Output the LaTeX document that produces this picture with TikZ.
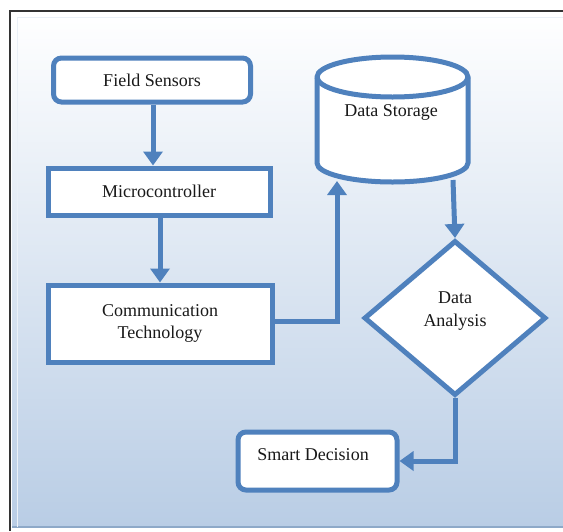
\documentclass[tikz,border=0pt]{standalone}
\usepackage{fontspec}
\setmainfont{Liberation Serif}
\usetikzlibrary{shapes.geometric,arrows.meta,calc}
\definecolor{boxblue}{HTML}{4F81BD}
\definecolor{bgbottom}{HTML}{B9CDE5}
\definecolor{bgedge}{HTML}{8EA9C8}
\begin{document}
\begin{tikzpicture}[x=1pt,y=-1pt,
  every node/.style={font=\fontsize{18}{22}\selectfont, text=black!90},
  box/.style={draw=boxblue, line width=5pt, fill=white, inner sep=0pt},
  rbox/.style={box, rounded corners=8pt},
  flow/.style={draw=boxblue, line width=5pt, -{Triangle[length=14pt,width=19pt]}},
  plain/.style={draw=boxblue, line width=5pt}
]
\useasboundingbox (0,0) rectangle (563,531);
% background panel
\shade[top color=white, bottom color=bgbottom] (12,13) rectangle (563,527);
\draw[bgedge, line width=1.5pt] (12,527) -- (563,527);
\draw[white!70!bgbottom, line width=1pt] (17,527) -- (17,17) -- (563,17);
\draw[black!80, line width=1.2pt] (10,531) -- (10,11) -- (563,11);

% nodes
\node[rbox, minimum width=197pt, minimum height=44pt] (fs) at (152,80) {Field Sensors};
\node[box, minimum width=222pt, minimum height=47pt] (mc) at (159,191.5) {Microcontroller};
\node[box, minimum width=224pt, minimum height=77pt, align=center] (ct) at (160,323.5) {Communication\\Technology};
\node[rbox, minimum width=159pt, minimum height=58pt] (sd) at (317.5,461) {};
\node at (313,455) {Smart Decision};

% cylinder
\filldraw[fill=white, draw=boxblue, line width=5pt]
  (317,77) -- (317,163) arc[start angle=180, end angle=360, x radius=75.5pt, y radius=19pt]
  -- (468,77) arc[start angle=0, end angle=180, x radius=75.5pt, y radius=20pt] -- cycle;
\draw[boxblue, line width=5pt] (317,77) arc[start angle=180, end angle=360, x radius=75.5pt, y radius=20pt];
\coordinate (dsB) at (337,181);
\coordinate (dsO) at (453,180);
\node at (391,112) {Data Storage};

% diamond
\node[diamond, draw=boxblue, line width=5pt, fill=white, minimum width=182pt, minimum height=155pt, inner sep=0pt] (da) at (455,318) {};
\node[align=center, font=\fontsize{18}{23}\selectfont] at (455,311) {Data\\Analysis};

% connectors
\draw[flow] (fs.south -| 153,0) -- (mc.north -| 153,0);
\draw[flow] (mc.south -| 160,0) -- (ct.north -| 160,0);
\draw[flow] (ct.east |- 0,321) -- (337,321) -- (dsB);
\draw[flow] (dsO) -- (da.north);
\draw[flow] (da.south) -- (455,461) -- (sd.east |- 0,461);
\end{tikzpicture}
\end{document}
